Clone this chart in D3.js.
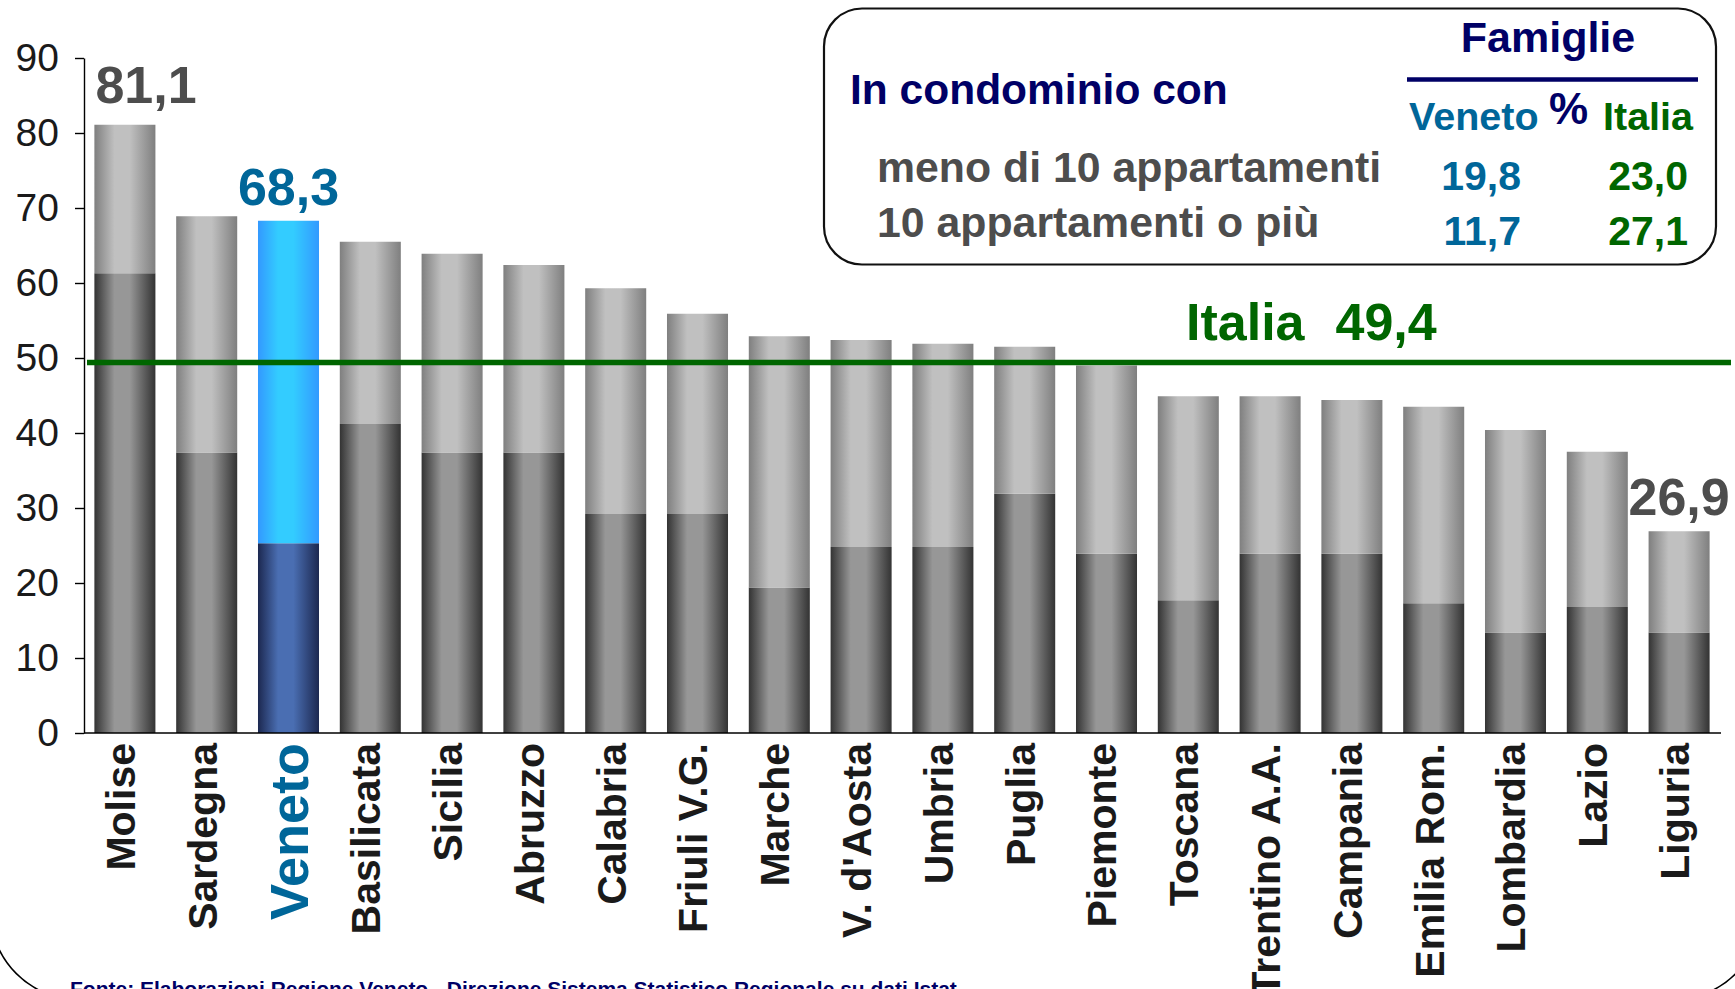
<!DOCTYPE html>
<html>
<head>
<meta charset="utf-8">
<script src="https://cdn.jsdelivr.net/npm/d3@7"></script>
<style>
  html, body { margin: 0; padding: 0; background: #fff; }
  svg { display: block; font-family: "Liberation Sans", Arial, sans-serif; }
</style>
</head>
<body>
<svg id="chart"></svg>
<script>
"use strict";

/*
*  DATA
*/

var regions = ["Molise", "Sardegna", "Veneto", "Basilicata", "Sicilia", "Abruzzo", "Calabria",
  "Friuli V.G.", "Marche", "V. d'Aosta", "Umbria", "Puglia", "Piemonte", "Toscana",
  "Trentino A.A.", "Campania", "Emilia Rom.", "Lombardia", "Lazio", "Liguria"];

// total height of each bar and the darker lower segment
var totals = [81.1, 68.9, 68.3, 65.5, 63.9, 62.4, 59.3, 55.9, 52.9, 52.4, 51.9, 51.5,
  49.0, 44.9, 44.9, 44.4, 43.5, 40.4, 37.5, 26.9];
var lowerPart = [61.3, 37.4, 25.3, 41.2, 37.4, 37.4, 29.2, 29.2, 19.4, 24.8, 24.8, 31.9,
  23.9, 17.7, 23.9, 23.9, 17.3, 13.4, 16.8, 13.4];

var yTicks = [0, 10, 20, 30, 40, 50, 60, 70, 80, 90];
var italiaAvg = 49.4;
var highlight = "Veneto";
var labelled = ["Molise", "Veneto", "Liguria"];

// box top right
var tableRows = ["meno di 10 appartamenti", "10 appartamenti o più"];
var venetoPct = [19.8, 11.7];
var italiaPct = [23.0, 27.1];

var fonte = "Fonte: Elaborazioni Regione Veneto - Direzione Sistema Statistico Regionale su dati Istat";

/*
*  RUN
*/

var width = 1735,
    height = 989;

var itFmt = d3.formatLocale({ decimal: ",", thousands: ".", grouping: [3], currency: ["", "€"] }).format(".1f");

var NAVY = "#000066", GREEN = "#006600", BLUE = "#006699", GREYTXT = "#4d4d4d";

drawChart();

/*
*  HELPERS
*/

function drawChart() {
  var svg = d3.select("#chart").attr("width", width).attr("height", height);

  svg.append("rect").attr("width", width).attr("height", height).attr("fill", "#fff");

  // big rounded frame of the slide, only the corners show
  svg.append("rect")
    .attr("x", -10).attr("y", -200).attr("width", 1772).attr("height", 1200)
    .attr("rx", 90).attr("fill", "none").attr("stroke", "#000").attr("stroke-width", 1.6);

  makeGradients(svg);

  var x = d3.scaleBand().domain(regions).range([84, 1720]).paddingInner(0.254).paddingOuter(0.127);
  var y = d3.scaleLinear().domain([0, 90]).range([733, 58]);

  var data = regions.map(function (r, i) {
    return { region: r, total: totals[i], lower: lowerPart[i] };
  });

  // BARS
  var bars = svg.append("g").attr("class", "bars");
  var g = bars.selectAll("g").data(data).enter().append("g");

  g.append("rect")
    .attr("x", function (d) { return x(d.region); })
    .attr("width", x.bandwidth())
    .attr("y", function (d) { return y(d.lower); })
    .attr("height", function (d) { return y(0) - y(d.lower); })
    .attr("fill", function (d) { return d.region === highlight ? "url(#blueDark)" : "url(#greyDark)"; });

  g.append("rect")
    .attr("x", function (d) { return x(d.region); })
    .attr("width", x.bandwidth())
    .attr("y", function (d) { return y(d.total); })
    .attr("height", function (d) { return y(d.lower) - y(d.total); })
    .attr("fill", function (d) { return d.region === highlight ? "url(#blueLight)" : "url(#greyLight)"; });

  // Y AXIS
  var yAxis = d3.axisLeft(y).tickValues(yTicks).tickSizeInner(9).tickSizeOuter(0).tickPadding(16);
  var ya = svg.append("g").attr("transform", "translate(84,0)").call(yAxis);
  ya.select(".domain").attr("stroke", "#000").attr("stroke-width", 1.4);
  ya.selectAll(".tick line").attr("stroke", "#000").attr("stroke-width", 1.4);
  ya.selectAll(".tick text").attr("font-size", 39).attr("fill", "#1a1a1a")
    .attr("font-family", "Liberation Sans, Arial, sans-serif");

  // X AXIS LINE
  svg.append("line")
    .attr("x1", 84).attr("x2", 1721).attr("y1", y(0)).attr("y2", y(0))
    .attr("stroke", "#000").attr("stroke-width", 1.6);

  // CATEGORY LABELS (rotated)
  svg.append("g").selectAll("text").data(regions).enter().append("text")
    .attr("transform", function (d) {
      return "translate(" + (x(d) + x.bandwidth() / 2) + "," + (y(0) + 10) + ") rotate(-90)";
    })
    .attr("text-anchor", "end")
    .attr("dy", function (d) { return d === highlight ? "0.36em" : "0.24em"; })
    .attr("font-weight", "bold")
    .attr("font-size", function (d) { return d === highlight ? 54 : 41; })
    .attr("fill", function (d) { return d === highlight ? BLUE : "#1a1a1a"; })
    .text(function (d) { return d; });

  // ITALIA AVERAGE LINE
  svg.append("line")
    .attr("x1", 87).attr("x2", 1731).attr("y1", y(italiaAvg)).attr("y2", y(italiaAvg))
    .attr("stroke", GREEN).attr("stroke-width", 5.5);

  var it = svg.append("text")
    .attr("x", 1186).attr("y", y(italiaAvg) - 23)
    .attr("font-size", 52).attr("font-weight", "bold").attr("fill", GREEN);
  it.append("tspan").text("Italia");
  it.append("tspan").attr("dx", 31).text(itFmt(italiaAvg));

  // VALUE LABELS ON SOME BARS
  labelled.forEach(function (r) {
    var i = regions.indexOf(r);
    var first = i === 0;
    svg.append("text")
      .attr("x", first ? x(r) + 1 : x(r) + x.bandwidth() / 2)
      .attr("y", y(totals[i]) - (first ? 22 : 16))
      .attr("text-anchor", first ? "start" : "middle")
      .attr("font-size", 52).attr("font-weight", "bold")
      .attr("fill", r === highlight ? BLUE : GREYTXT)
      .text(itFmt(totals[i]));
  });

  drawTable(svg);

  // SOURCE NOTE (cut by the bottom edge, as in the slide)
  svg.append("text")
    .attr("x", 70).attr("y", 996)
    .attr("font-size", 21).attr("font-weight", "bold").attr("fill", NAVY)
    .text(fonte);
}

function drawTable(svg) {
  var t = svg.append("g").attr("class", "table");

  t.append("rect")
    .attr("x", 824).attr("y", 8.5).attr("width", 892).attr("height", 256)
    .attr("rx", 38).attr("ry", 38)
    .attr("fill", "#fff").attr("stroke", "#111").attr("stroke-width", 2.2);

  t.append("text").attr("x", 1548).attr("y", 52).attr("text-anchor", "middle")
    .attr("font-size", 43).attr("font-weight", "bold").attr("fill", NAVY).text("Famiglie");

  t.append("line").attr("x1", 1407).attr("x2", 1698).attr("y1", 79.5).attr("y2", 79.5)
    .attr("stroke", NAVY).attr("stroke-width", 4.4);

  t.append("text").attr("x", 850).attr("y", 104)
    .attr("font-size", 42.5).attr("font-weight", "bold").attr("fill", NAVY).text("In condominio con");

  t.append("text").attr("x", 1409).attr("y", 129.5)
    .attr("font-size", 39.5).attr("font-weight", "bold").attr("fill", BLUE).text("Veneto");
  t.append("text").attr("x", 1549).attr("y", 124)
    .attr("font-size", 44).attr("font-weight", "bold").attr("fill", NAVY).text("%");
  t.append("text").attr("x", 1603).attr("y", 129.5)
    .attr("font-size", 39.5).attr("font-weight", "bold").attr("fill", GREEN).text("Italia");

  var rowY = [182, 237];
  tableRows.forEach(function (label, i) {
    t.append("text").attr("x", 877).attr("y", rowY[i])
      .attr("font-size", 42.8).attr("font-weight", "bold").attr("fill", GREYTXT).text(label);
    t.append("text").attr("x", 1521).attr("y", rowY[i] + 8).attr("text-anchor", "end")
      .attr("font-size", 41).attr("font-weight", "bold").attr("fill", BLUE).text(itFmt(venetoPct[i]));
    t.append("text").attr("x", 1688).attr("y", rowY[i] + 8).attr("text-anchor", "end")
      .attr("font-size", 41).attr("font-weight", "bold").attr("fill", GREEN).text(itFmt(italiaPct[i]));
  });
}

function makeGradients(svg) {
  var defs = svg.append("defs");
  var grads = [
    { id: "greyDark", edge: "#333333", mid: "#979797" },
    { id: "greyLight", edge: "#7f7f7f", mid: "#c0c0c0" },
    { id: "blueDark", edge: "#1c2850", mid: "#4a6eb2" },
    { id: "blueLight", edge: "#3399ff", mid: "#33ccff" }
  ];
  grads.forEach(function (gd) {
    var lg = defs.append("linearGradient").attr("id", gd.id)
      .attr("x1", 0).attr("x2", 1).attr("y1", 0).attr("y2", 0);
    lg.append("stop").attr("offset", "0%").attr("stop-color", gd.edge);
    lg.append("stop").attr("offset", "33%").attr("stop-color", gd.mid);
    lg.append("stop").attr("offset", "58%").attr("stop-color", gd.mid);
    lg.append("stop").attr("offset", "100%").attr("stop-color", gd.edge);
  });
}
</script>
</body>
</html>
